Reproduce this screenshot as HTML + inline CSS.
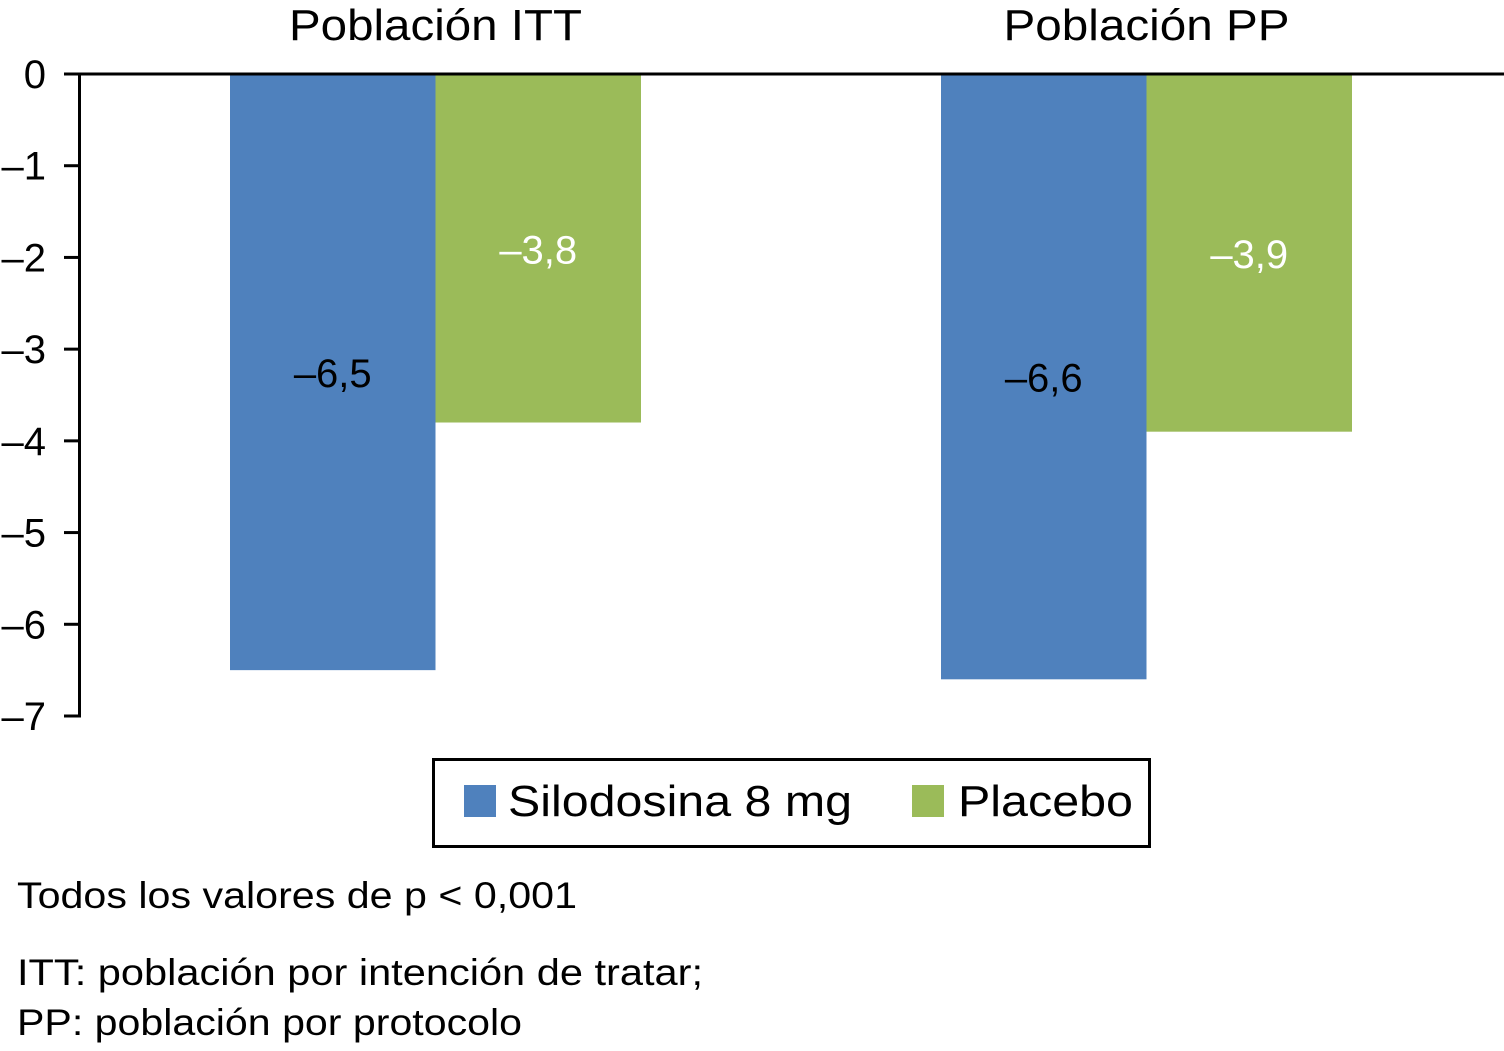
<!DOCTYPE html>
<html><head><meta charset="utf-8">
<style>
html,body{margin:0;padding:0;background:#fff;}
body{width:1504px;height:1046px;overflow:hidden;font-family:"Liberation Sans",Arial,sans-serif;}
svg text{font-family:"Liberation Sans",Arial,sans-serif;}
</style></head>
<body>
<svg id="chart" width="1504" height="1046" viewBox="0 0 1504 1046" xmlns="http://www.w3.org/2000/svg">
  <g id="plot"></g>
  <g>
    <rect x="433.5" y="759.5" width="716" height="87" fill="none" stroke="#000" stroke-width="3"/>
    <rect x="464" y="785" width="32" height="32" fill="#4f81bd"/>
    <text x="508" y="816" font-size="44" textLength="344" lengthAdjust="spacingAndGlyphs">Silodosina 8 mg</text>
    <rect x="912" y="785" width="32" height="32" fill="#9bbb59"/>
    <text x="958" y="816" font-size="44" textLength="175" lengthAdjust="spacingAndGlyphs">Placebo</text>
  </g>
  <text x="17" y="908" font-size="37" textLength="560" lengthAdjust="spacingAndGlyphs">Todos los valores de p &lt; 0,001</text>
  <text x="17" y="985" font-size="37" textLength="686" lengthAdjust="spacingAndGlyphs">ITT: población por intención de tratar;</text>
  <text x="17" y="1035" font-size="37" textLength="505" lengthAdjust="spacingAndGlyphs">PP: población por protocolo</text>
</svg>
<script>
const categories = ["Población ITT", "Población PP"];
const silodosina = [-6.5, -6.6];
const placebo = [-3.8, -3.9];
const silodosinaLabels = ["–6,5", "–6,6"];
const placeboLabels = ["–3,8", "–3,9"];
const yTicks = [0, -1, -2, -3, -4, -5, -6, -7];
const yTickLabels = ["0", "–1", "–2", "–3", "–4", "–5", "–6", "–7"];

const NS = "http://www.w3.org/2000/svg";
const plotG = document.getElementById("plot");
const yZero = 74, unit = (716 - 74) / 7;
function yScale(v){ return yZero - v * unit; }
const groupStart = [230, 941];
const barW = 205.5;
const titleWidths = [293, 286];
function mk(tag, attrs){ const e = document.createElementNS(NS, tag); for (const k in attrs) e.setAttribute(k, attrs[k]); plotG.appendChild(e); return e; }

categories.forEach((c, i) => {
  const x1 = groupStart[i], x2 = x1 + barW;
  const b1 = mk("rect", {x: x1, y: yScale(0), width: barW, height: yScale(silodosina[i]) - yScale(0), fill: "#4f81bd"});
  
  
  const b2 = mk("rect", {x: x2, y: yScale(0), width: barW, height: yScale(placebo[i]) - yScale(0), fill: "#9bbb59"});
  
  
  const l1 = mk("text", {x: x1 + barW/2, y: (yScale(0) + yScale(silodosina[i]))/2 + 15, "font-size": 40, "text-anchor": "middle", fill: "#000"});
  l1.textContent = silodosinaLabels[i];
  
  
  const l2 = mk("text", {x: x2 + barW/2, y: (yScale(0) + yScale(placebo[i]))/2 + 15, "font-size": 40, "text-anchor": "middle", fill: "#fff"});
  l2.textContent = placeboLabels[i];
  
  
  const t = mk("text", {x: x2 - titleWidths[i]/2, y: 40, "font-size": 44, fill: "#000", textLength: titleWidths[i], lengthAdjust: "spacingAndGlyphs"});
  t.textContent = c;
  
  
});

const zeroLine = mk("line", {x1: 64, y1: yScale(0), x2: 1504, y2: yScale(0), stroke: "#000", "stroke-width": 3});


const axisLine = mk("line", {x1: 79.5, y1: yScale(0) - 1.5, x2: 79.5, y2: yScale(-7) + 1.5, stroke: "#000", "stroke-width": 3});


yTicks.forEach((v, i) => {
  const tk = mk("line", {x1: 64, y1: yScale(v), x2: 80, y2: yScale(v), stroke: "#000", "stroke-width": 3});
  
  
  const tl = mk("text", {x: 46, y: yScale(v) + 14, "font-size": 40, "text-anchor": "end", fill: "#000"});
  tl.textContent = yTickLabels[i];
  
  
});
</script>
</body></html>
